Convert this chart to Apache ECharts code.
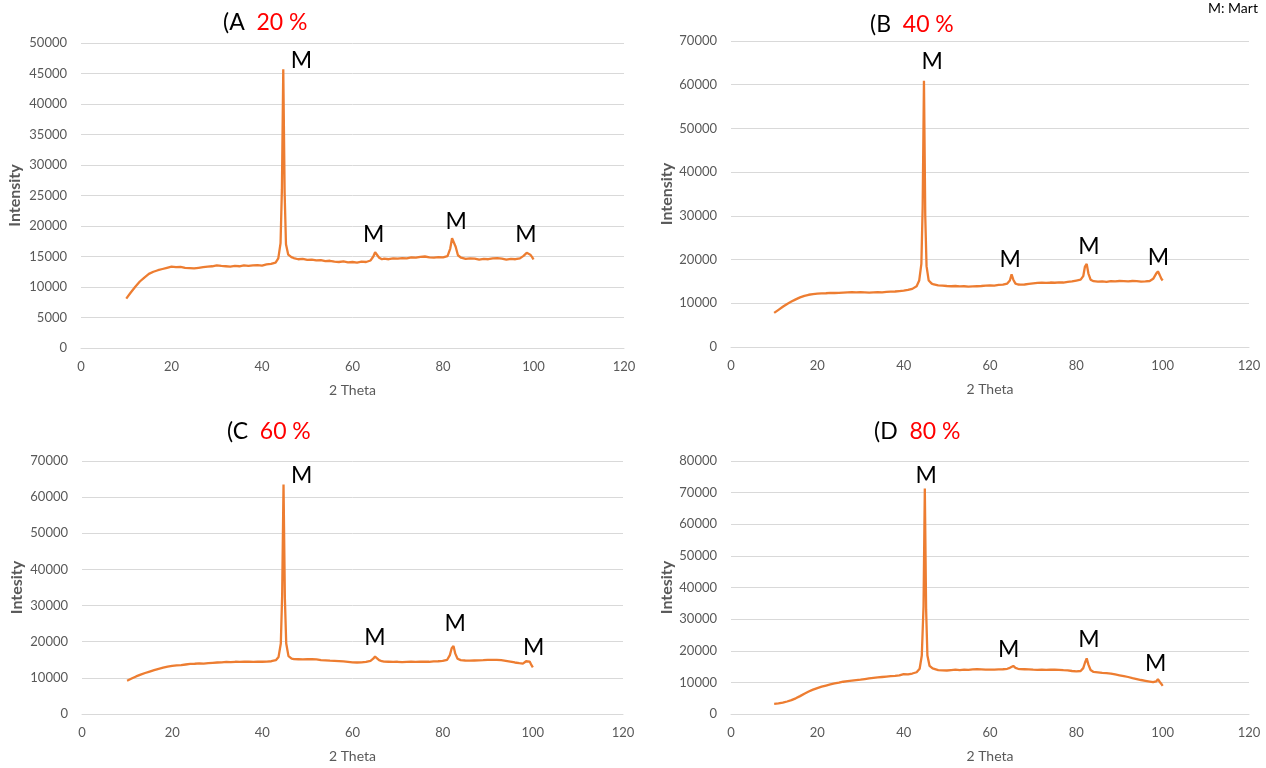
<!DOCTYPE html>
<html><head><meta charset="utf-8">
<script src="https://cdn.jsdelivr.net/npm/echarts@6/dist/echarts.min.js"></script>
<style>html,body{margin:0;padding:0;background:#fff}#c{width:1266px;height:768px}</style>
</head><body><div id="c"></div>
<script>
// ---- Data: [2θ, intensity] ----
const xrdA = [[10,8100],[11,9100],[12,10050],[13,10900],[14,11550],[15,12150],[16,12500],[17,12750],[18,12950],[19,13150],[20,13350],[21,13250],[22,13300],[23,13150],[24,13100],[25,13050],[26,13150],[27,13250],[28,13350],[29,13400],[30,13550],[31,13450],[32,13400],[33,13350],[34,13450],[35,13400],[36,13550],[37,13450],[38,13550],[39,13600],[40,13500],[41,13700],[42,13800],[43,14000],[43.6,14700],[44.1,17200],[44.4,26000],[44.7,45700],[45.0,25500],[45.3,17000],[45.8,15300],[46.5,14900],[47,14750],[48,14550],[49,14600],[50,14450],[51,14500],[52,14350],[53,14400],[54,14250],[55,14300],[56,14150],[57,14100],[58,14200],[59,14050],[60,14100],[61,14000],[62,14150],[63,14100],[64,14350],[64.6,15000],[65.0,15700],[65.4,15400],[65.9,14800],[66.5,14550],[67,14650],[68,14550],[69,14700],[70,14650],[71,14750],[72,14700],[73,14850],[74,14800],[75,14950],[76,15000],[77,14850],[78,14800],[79,14900],[80,14850],[81,15050],[81.6,16300],[82,18000],[82.4,18300],[82.8,16600],[83.3,15200],[84,14800],[85,14600],[86,14700],[87,14650],[88,14500],[89,14600],[90,14550],[91,14700],[92,14750],[93,14650],[94,14500],[95,14600],[96,14550],[97,14700],[97.8,15100],[98.5,15600],[98.9,15800],[99.3,15300],[99.7,14900],[100,14500]];
const xrdB = [[10,7800],[11,8500],[12,9200],[13,9850],[14,10400],[15,10900],[16,11350],[17,11700],[18,11950],[19,12100],[20,12200],[21,12250],[22,12300],[23,12400],[24,12350],[25,12400],[26,12450],[27,12500],[28,12550],[29,12500],[30,12550],[31,12500],[32,12450],[33,12500],[34,12550],[35,12500],[36,12600],[37,12650],[38,12700],[39,12800],[40,12900],[41,13050],[42,13300],[43,13900],[43.6,15200],[44.1,19000],[44.4,32000],[44.7,60900],[45.0,30000],[45.3,18500],[45.8,15200],[46.5,14500],[47,14300],[48,14100],[49,14050],[50,13950],[51,13900],[52,13950],[53,13850],[54,13900],[55,13800],[56,13850],[57,13900],[58,13950],[59,14050],[60,14100],[61,14050],[62,14200],[63,14250],[64,14500],[64.6,15200],[65.0,16600],[65.4,15400],[65.9,14500],[66.5,14300],[67,14250],[68,14300],[69,14450],[70,14550],[71,14650],[72,14700],[73,14650],[74,14750],[75,14700],[76,14800],[77,14750],[78,14900],[79,15000],[80,15200],[81,15400],[81.6,16200],[82,18400],[82.4,19000],[82.8,16800],[83.3,15400],[84,15050],[85,14950],[86,15000],[87,14900],[88,15050],[89,15000],[90,15100],[91,15050],[92,15000],[93,15100],[94,15050],[95,14950],[96,15000],[97,15100],[97.8,15600],[98.5,16800],[98.9,17300],[99.3,16500],[99.7,15600],[100,15200]];
const xrdC = [[10,9200],[11,9800],[12,10400],[13,10900],[14,11350],[15,11750],[16,12150],[17,12500],[18,12800],[19,13100],[20,13300],[21,13450],[22,13550],[23,13700],[24,13850],[25,13900],[26,14000],[27,13950],[28,14050],[29,14150],[30,14250],[31,14300],[32,14400],[33,14350],[34,14450],[35,14400],[36,14500],[37,14450],[38,14400],[39,14500],[40,14450],[41,14500],[42,14600],[43,14900],[43.6,15800],[44.1,19500],[44.4,33000],[44.7,63500],[45.0,32000],[45.3,19500],[45.8,16000],[46.5,15300],[47,15200],[48,15150],[49,15100],[50,15200],[51,15150],[52,15100],[53,14900],[54,14850],[55,14750],[56,14700],[57,14650],[58,14550],[59,14450],[60,14300],[61,14250],[62,14300],[63,14400],[64,14700],[64.6,15300],[65.0,15900],[65.4,15600],[65.9,14900],[66.5,14600],[67,14500],[68,14450],[69,14400],[70,14450],[71,14350],[72,14400],[73,14450],[74,14400],[75,14450],[76,14500],[77,14450],[78,14550],[79,14600],[80,14700],[81,15000],[81.6,16300],[82,18200],[82.4,18800],[82.8,16700],[83.3,15300],[84,14900],[85,14800],[86,14750],[87,14800],[88,14850],[89,14900],[90,15000],[91,14950],[92,15000],[93,14900],[94,14700],[95,14500],[96,14250],[97,14050],[97.8,13950],[98.5,14600],[98.9,15100],[99.3,14500],[99.7,13500],[100,12900]];
const xrdD = [[10,3200],[11,3350],[12,3600],[13,3950],[14,4400],[15,4950],[16,5650],[17,6400],[18,7100],[19,7700],[20,8200],[21,8650],[22,9000],[23,9350],[24,9650],[25,9900],[26,10200],[27,10400],[28,10550],[29,10700],[30,10850],[31,11050],[32,11250],[33,11400],[34,11550],[35,11700],[36,11850],[37,11950],[38,12050],[39,12200],[40,12600],[41,12500],[42,12800],[43,13200],[43.7,14300],[44.2,18500],[44.6,34000],[44.9,71300],[45.2,33000],[45.5,18500],[46,15200],[46.7,14400],[47,14200],[48,13900],[49,13800],[50,13750],[51,13900],[52,14000],[53,13900],[54,14000],[55,13950],[56,14100],[57,14150],[58,14100],[59,14050],[60,14000],[61,14050],[62,14100],[63,14150],[64,14300],[64.6,14600],[65.0,15000],[65.4,15200],[65.9,14600],[66.5,14300],[67,14200],[68,14150],[69,14100],[70,14000],[71,13950],[72,14000],[73,13950],[74,14000],[75,14000],[76,13950],[77,13850],[78,13800],[79,13600],[80,13500],[81,13600],[81.6,14500],[82,16200],[82.4,17600],[82.8,15600],[83.3,13900],[84,13300],[85,13150],[86,13000],[87,12900],[88,12750],[89,12500],[90,12250],[91,12000],[92,11700],[93,11350],[94,11050],[95,10750],[96,10500],[97,10250],[97.8,10050],[98.5,10300],[98.9,11000],[99.3,10200],[99.7,9500],[100,8900]];

// "M" peak annotations, in data coordinates [2θ, intensity]
const labelsA = [[48.7,47050],[64.7,18650],[82.9,20710],[98.3,18650]];
const labelsB = [[46.6,65320],[64.7,20030],[82.9,23080],[99.0,20490]];
const labelsC = [[48.7,65850],[65.0,21110],[82.8,24900],[100.2,18450]];
const labelsD = [[45.2,75470],[64.3,20450],[82.9,23620],[98.4,16030]];

const panelLetters = ['(A','(B','(C','(D'];
const panelPercents = ['20 %','40 %','60 %','80 %'];
const yAxisNames = ['Intensity','Intensity','Intesity','Intesity'];
const xAxisName = '2 Theta';
const yMaxes = [50000,70000,70000,80000];
const ySteps = [5000,10000,10000,10000];
const xMin = 0, xMax = 120, xStep = 20;
const legendNote = 'M: Mart';

// ---- Layout (pixels) ----
const grids = [
  {left:81, top:43, width:543, height:305},
  {left:731, top:41, width:518, height:306},
  {left:82, top:461, width:541, height:253},
  {left:731, top:461, width:518, height:253}
];
const titlePos = [[223,9],[870,11],[227,418],[874,418]];
const yNameGaps = [58,56,57,56];
const series = [xrdA,xrdB,xrdC,xrdD];
const labels = [labelsA,labelsB,labelsC,labelsD];

const FONT = 'Lato, "Open Sans", sans-serif';
const GRAY = '#595959';
const option = {
  animation:false,
  backgroundColor:'#fff',
  title: panelLetters.map((l,i)=>({
    text:'{k|'+l+'}  {r|'+panelPercents[i]+'}',
    left:titlePos[i][0], top:titlePos[i][1], padding:0,
    textStyle:{fontSize:23,fontWeight:'normal',fontFamily:FONT,color:'#000',
      rich:{k:{fontSize:23,color:'#000',fontFamily:FONT,lineHeight:28},
            r:{fontSize:23,color:'#ff0000',fontFamily:FONT,lineHeight:28}}}
  })).concat([{text:legendNote,left:1208,top:1,padding:0,
    textStyle:{fontSize:14,fontWeight:'normal',fontFamily:FONT,color:'#000'}}]),
  grid: grids.map(g=>Object.assign({containLabel:false},g)),
  xAxis: grids.map((g,i)=>({
    type:'value', gridIndex:i, min:xMin, max:xMax, interval:xStep,
    name:xAxisName, nameLocation:'middle', nameGap:35,
    nameTextStyle:{fontSize:14,color:GRAY,fontFamily:FONT},
    axisLine:{show:true,lineStyle:{color:'#d9d9d9'}},
    axisTick:{show:false},
    axisLabel:{color:GRAY,fontSize:13,fontFamily:FONT,margin:12},
    splitLine:{show:false}
  })),
  yAxis: grids.map((g,i)=>({
    type:'value', gridIndex:i, min:0, max:yMaxes[i], interval:ySteps[i],
    name:yAxisNames[i], nameLocation:'middle', nameGap:yNameGaps[i],
    nameTextStyle:{fontSize:16,fontWeight:'bold',color:GRAY,fontFamily:FONT},
    axisLine:{show:false}, axisTick:{show:false},
    axisLabel:{color:GRAY,fontSize:13,fontFamily:FONT,margin:14,formatter:v=>String(v)},
    splitLine:{show:true,lineStyle:{color:'#d9d9d9',width:1}}
  })),
  series: series.map((d,i)=>({
    type:'line', xAxisIndex:i, yAxisIndex:i, data:d,
    showSymbol:false, symbol:'none', smooth:false,
    lineStyle:{color:'#ED7D31',width:2.3},
    itemStyle:{color:'#ED7D31'},
    markPoint:{
      symbol:'circle', symbolSize:1, silent:true,
      itemStyle:{color:'rgba(0,0,0,0)'},
      label:{show:true,position:'inside',formatter:'M',color:'#000',fontSize:23,fontFamily:FONT},
      data: labels[i].map(c=>({coord:c}))
    }
  }))
};
const chart = echarts.init(document.getElementById('c'),null,{renderer:'canvas'});
chart.setOption(option);
</script></body></html>
